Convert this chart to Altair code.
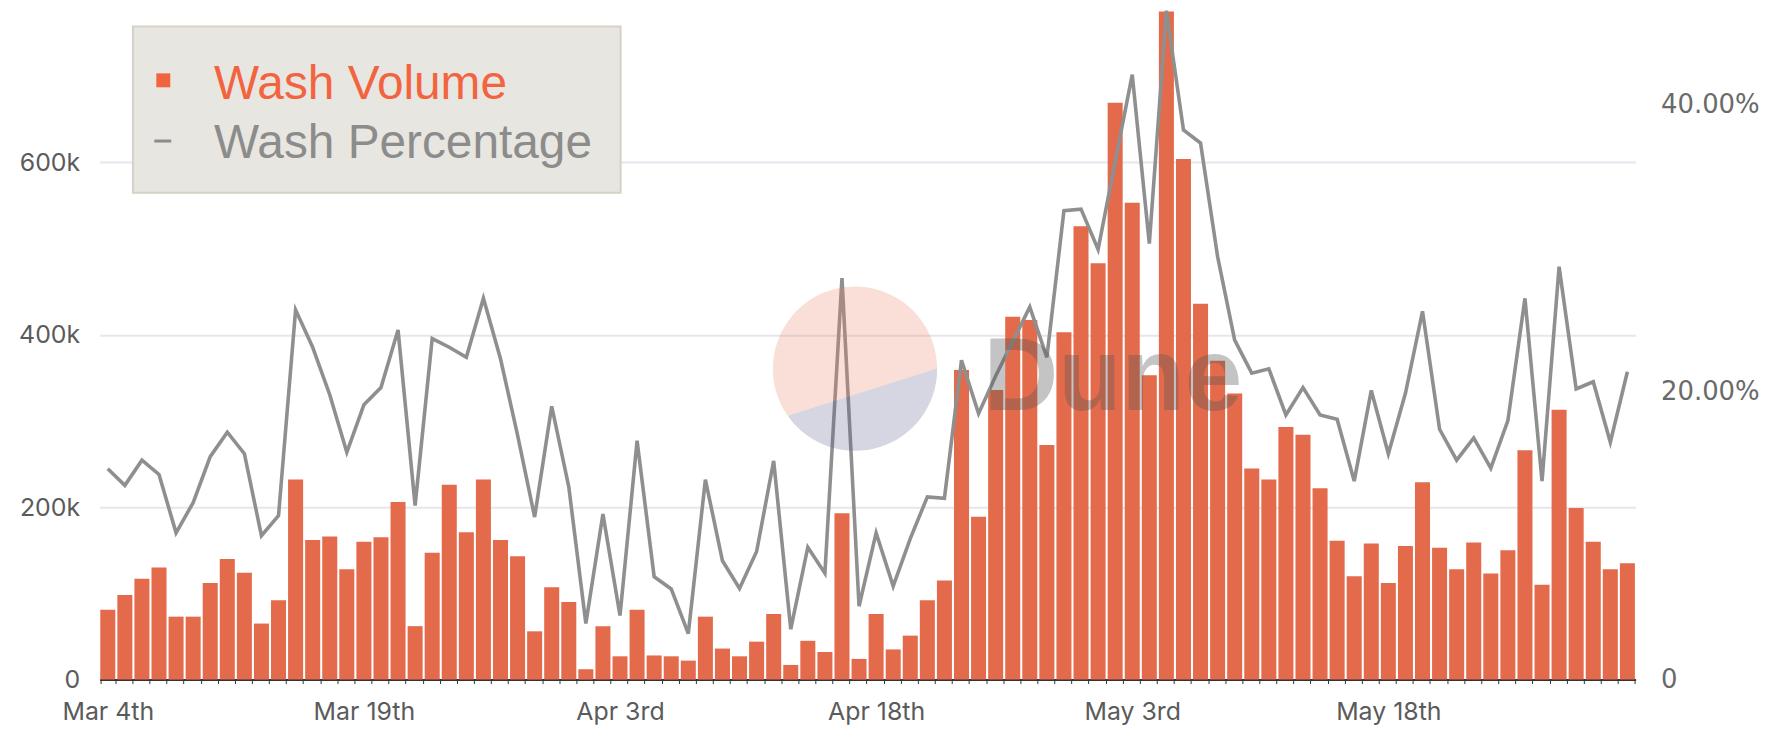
import altair as alt
import pandas as pd

# ---------------- data ----------------
days = pd.date_range("2022-03-04", periods=90, freq="D")


def _suffix(n):
    if 11 <= n % 100 <= 13:
        return "th"
    return {1: "st", 2: "nd", 3: "rd"}.get(n % 10, "th")


day_labels = [f"{d.strftime('%b')} {d.day}{_suffix(d.day)}" for d in days]

tick_labels = ["Mar 4th", "Mar 19th", "Apr 3rd", "Apr 18th", "May 3rd", "May 18th"]

wash_volume = [
    81000, 98000, 117000, 130000, 73000, 73000, 112000, 140000, 124000, 65000,
    92000, 232000, 162000, 166000, 128000, 160000, 165000, 206000, 62000, 147000,
    226000, 171000, 232000, 162000, 143000, 56000, 107000, 90000, 12000, 62000,
    27000, 81000, 28000, 27000, 22000, 73000, 36000, 27000, 44000, 76000,
    17000, 45000, 32000, 193000, 24000, 76000, 35000, 51000, 92000, 115000,
    359000, 189000, 336000, 421000, 417000, 272000, 403000, 526000, 483000, 669000,
    553000, 353000, 775000, 604000, 436000, 370000, 332000, 245000, 232000, 293000,
    284000, 222000, 161000, 120000, 158000, 112000, 155000, 229000, 153000, 128000,
    159000, 123000, 150000, 266000, 110000, 313000, 199000, 160000, 128000, 135000,
]

wash_percentage = [
    0.1465, 0.135, 0.1525, 0.1426, 0.102, 0.123, 0.155, 0.172, 0.157, 0.100,
    0.114, 0.257, 0.231, 0.198, 0.158, 0.191, 0.203, 0.243, 0.121, 0.237,
    0.231, 0.224, 0.265, 0.223, 0.170, 0.113, 0.190, 0.134, 0.039, 0.115,
    0.0445, 0.166, 0.0715, 0.063, 0.032, 0.139, 0.0826, 0.0634, 0.089, 0.152,
    0.035, 0.092, 0.074, 0.279, 0.051, 0.102, 0.065, 0.098, 0.127, 0.126,
    0.222, 0.185, 0.211, 0.235, 0.259, 0.224, 0.326, 0.327, 0.299, 0.360,
    0.4205, 0.303, 0.465, 0.382, 0.373, 0.294, 0.236, 0.213, 0.216, 0.184,
    0.203, 0.184, 0.181, 0.138, 0.201, 0.157, 0.199, 0.256, 0.174, 0.1525,
    0.168, 0.147, 0.180, 0.265, 0.138, 0.287, 0.202, 0.207, 0.165, 0.214,
]

legend_labels = ["Wash Volume", "Wash Percentage"]

df = pd.DataFrame({"day": day_labels, "volume": wash_volume, "pct": wash_percentage})
dummy = pd.DataFrame({"k": [0]})

# ---------------- styles ----------------
BAR = "#e36b4b"
LINE = "#8f8f8f"
AXIS_FONT = "Inter"
tick_list = "[" + ",".join(f"'{t}'" for t in tick_labels) + "]"

x_enc = alt.X(
    "day:O",
    sort=day_labels,
    scale=alt.Scale(paddingInner=0.12, paddingOuter=0.04),
    axis=alt.Axis(
        title=None,
        labelAngle=0,
        labelOverlap=False,
        labelExpr=f"indexof({tick_list}, datum.value) >= 0 ? datum.value : ''",
        tickBand="extent",
        tickSize=4,
        tickColor="#333333",
        tickWidth=1,
        domainColor="#333333",
        domainWidth=2,
        labelPadding=16,
        labelFont=AXIS_FONT,
        labelFontSize=25,
        labelColor="#5b5b5b",
        grid=False,
    ),
)

bars = alt.Chart(df).mark_bar(color=BAR).encode(
    x=x_enc,
    y=alt.Y(
        "volume:Q",
        scale=alt.Scale(domain=[0, max(wash_volume) + 1000], nice=False),
        axis=alt.Axis(
            title=None,
            values=[0, 200000, 400000, 600000],
            labelExpr="datum.value == 0 ? '0' : (datum.value / 1000) + 'k'",
            grid=True,
            gridColor="#e6e6ee",
            gridWidth=2,
            domain=False,
            ticks=False,
            tickSize=0,
            labelPadding=20,
            labelFont=AXIS_FONT,
            labelFontSize=25,
            labelColor="#5b5b5b",
        ),
    ),
)

line = alt.Chart(df).mark_line(color=LINE, strokeWidth=3.6, strokeJoin="miter").encode(
    x=alt.X("day:O", sort=day_labels),
    y=alt.Y(
        "pct:Q",
        scale=alt.Scale(domain=[0, max(wash_percentage)], nice=False),
        axis=alt.Axis(
            orient="right",
            title=None,
            values=[0, 0.2, 0.4],
            labelExpr="datum.value == 0 ? '0' : format(datum.value, '.2%')",
            grid=False,
            domain=False,
            ticks=False,
            tickSize=0,
            labelPadding=25,
            labelFont="DejaVu Sans",
            labelFontSize=26,
            labelColor="#6a6a6a",
        ),
    ),
)

# ---------------- watermark ----------------
seg_lower = "M 0.999 -0.007 A 1 1 0 0 1 -0.821 0.569 Z"
seg_upper = "M 0.999 -0.007 A 1 1 0 1 0 -0.821 0.569 Z"
wm_upper = alt.Chart(dummy).mark_point(
    shape=seg_upper, size=27225, filled=True, fill="#e9805f", fillOpacity=0.25, strokeWidth=0
).encode(x=alt.value(759), y=alt.value(360))
wm_lower = alt.Chart(dummy).mark_point(
    shape=seg_lower, size=27225, filled=True, fill="#5a5a8c", fillOpacity=0.25, strokeWidth=0
).encode(x=alt.value(759), y=alt.value(360))
wm_text = alt.Chart(dummy).mark_text(
    text="Dune", align="left", baseline="alphabetic", font="Liberation Sans",
    fontWeight="bold", fontSize=104, color="#555555", opacity=0.34,
).encode(x=alt.value(888), y=alt.value(401))

# ---------------- legend ----------------
leg_box = alt.Chart(dummy).mark_rect(fill="#e8e6e0", stroke="#d5d2c5", strokeWidth=2).encode(
    x=alt.value(33.5), x2=alt.value(523.4), y=alt.value(16), y2=alt.value(183)
)
leg_sq = alt.Chart(dummy).mark_square(size=196, color="#f26440", opacity=1).encode(
    x=alt.value(64), y=alt.value(70)
)
leg_dash = alt.Chart(dummy).mark_rule(color="#8c8c8c", strokeWidth=3).encode(
    x=alt.value(55), x2=alt.value(72), y=alt.value(131)
)
leg_t1 = alt.Chart(dummy).mark_text(
    text=legend_labels[0], align="left", baseline="alphabetic", font="Liberation Sans",
    fontSize=48, color="#f26440",
).encode(x=alt.value(115), y=alt.value(89))
leg_t2 = alt.Chart(dummy).mark_text(
    text=legend_labels[1], align="left", baseline="alphabetic", font="Liberation Sans",
    fontSize=48, color="#8c8c8c",
).encode(x=alt.value(115), y=alt.value(148))

chart = (
    alt.layer(bars, line, wm_upper, wm_lower, wm_text, leg_box, leg_sq, leg_dash, leg_t1, leg_t2)
    .resolve_scale(y="independent")
    .properties(
        width=1543,
        height=672,
        padding={"left": 92, "top": 1, "right": 131, "bottom": 50},
        autosize=alt.AutoSizeParams(type="none"),
        background="white",
    )
    .configure_view(stroke=None)
)

chart.save("out.html", embed_options={"renderer": "svg", "actions": False})
